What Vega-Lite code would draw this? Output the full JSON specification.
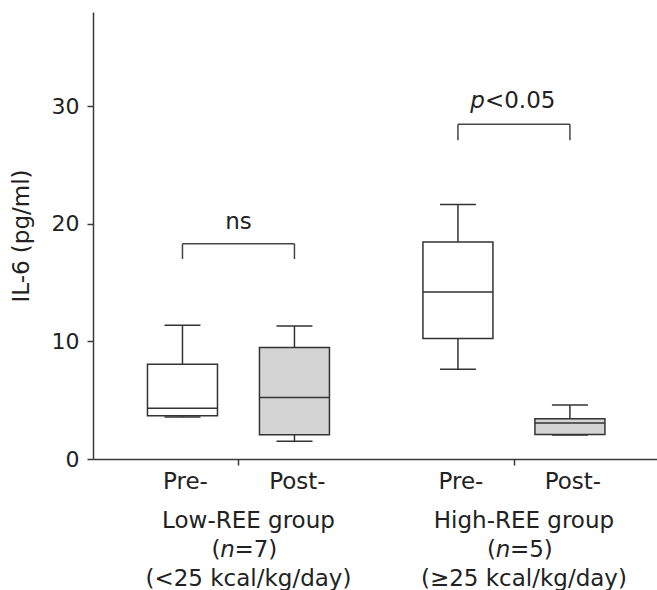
{
  "$schema": "https://vega.github.io/schema/vega-lite/v6.json",
  "autosize": {"type": "none"},
  "width": 564,
  "height": 447,
  "padding": {"left": 93, "top": 12, "right": 0, "bottom": 131},
  "background": "white",
  "config": {
    "view": {"stroke": null},
    "font": "DejaVu Sans",
    "axis": {
      "grid": false,
      "domainColor": "#3a3a3a",
      "domainWidth": 1.5,
      "tickColor": "#3a3a3a",
      "tickWidth": 1.5,
      "tickSize": 6,
      "labelFont": "DejaVu Sans",
      "labelFontSize": 22,
      "labelColor": "#222222",
      "titleFont": "DejaVu Sans",
      "titleFontSize": 23,
      "titleFontWeight": "normal",
      "titleColor": "#222222"
    },
    "text": {"font": "DejaVu Sans", "fontSize": 23, "color": "#222222", "baseline": "alphabetic"}
  },
  "datasets": {
    "boxes": [
      {"group": "Low", "phase": "Pre-", "pos": 1, "min": 3.58, "q1": 3.67, "median": 4.32, "q3": 8.05, "max": 11.36},
      {"group": "Low", "phase": "Post-", "pos": 2, "min": 1.5, "q1": 2.06, "median": 5.23, "q3": 9.47, "max": 11.3},
      {"group": "High", "phase": "Pre-", "pos": 3.46, "min": 7.63, "q1": 10.25, "median": 14.2, "q3": 18.45, "max": 21.64},
      {"group": "High", "phase": "Post-", "pos": 4.46, "min": 2.03, "q1": 2.09, "median": 3.05, "q3": 3.42, "max": 4.58}
    ],
    "brackets": [
      {"xa": 1, "xb": 2, "xm": 1.5, "top": 18.3, "foot": 17.0},
      {"xa": 3.46, "xb": 4.46, "xm": 3.96, "top": 28.45, "foot": 27.1}
    ],
    "groups": [
      {"center": 1.5, "name": "Low-REE group", "n": "=7)", "kcal": "(<25 kcal/kg/day)"},
      {"center": 3.96, "name": "High-REE group", "n": "=5)", "kcal": "(≥25 kcal/kg/day)"}
    ]
  },
  "layer": [
    {
      "data": {"name": "boxes"},
      "mark": {"type": "rule", "stroke": "#333333", "strokeWidth": 1.5},
      "encoding": {
        "x": {"field": "pos", "type": "quantitative", "scale": {"domain": [0.2456, 5.193], "nice": false, "zero": false},
              "axis": {"values": [1.5, 3.96], "labels": false, "title": null}},
        "y": {"field": "min", "type": "quantitative", "scale": {"domain": [0, 38], "nice": false},
              "axis": {"values": [0, 10, 20, 30], "title": "IL-6 (pg/ml)", "labelPadding": 8, "titlePadding": 18}},
        "y2": {"field": "max"}
      }
    },
    {
      "data": {"name": "boxes"},
      "mark": {"type": "bar", "size": 70, "stroke": "#333333", "strokeWidth": 1.5},
      "encoding": {
        "x": {"field": "pos", "type": "quantitative"},
        "y": {"field": "q1", "type": "quantitative"},
        "y2": {"field": "q3"},
        "fill": {"field": "phase", "type": "nominal", "scale": {"domain": ["Pre-", "Post-"], "range": ["#ffffff", "#d4d4d4"]}, "legend": null}
      }
    },
    {
      "data": {"name": "boxes"},
      "mark": {"type": "tick", "orient": "horizontal", "size": 70, "thickness": 1.5, "color": "#333333", "opacity": 1},
      "encoding": {
        "x": {"field": "pos", "type": "quantitative"},
        "y": {"field": "median", "type": "quantitative"}
      }
    },
    {
      "data": {"name": "boxes"},
      "mark": {"type": "tick", "orient": "horizontal", "size": 36, "thickness": 1.5, "color": "#333333", "opacity": 1},
      "encoding": {
        "x": {"field": "pos", "type": "quantitative"},
        "y": {"field": "max", "type": "quantitative"}
      }
    },
    {
      "data": {"name": "boxes"},
      "mark": {"type": "tick", "orient": "horizontal", "size": 36, "thickness": 1.5, "color": "#333333", "opacity": 1},
      "encoding": {
        "x": {"field": "pos", "type": "quantitative"},
        "y": {"field": "min", "type": "quantitative"}
      }
    },
    {
      "data": {"name": "boxes"},
      "mark": {"type": "text", "align": "center", "dx": 3},
      "encoding": {
        "x": {"field": "pos", "type": "quantitative"},
        "y": {"datum": -2.55},
        "text": {"field": "phase"}
      }
    },
    {
      "data": {"name": "brackets"},
      "mark": {"type": "rule", "stroke": "#444444", "strokeWidth": 1.5},
      "encoding": {
        "x": {"field": "xa", "type": "quantitative"},
        "x2": {"field": "xb"},
        "y": {"field": "top", "type": "quantitative"}
      }
    },
    {
      "data": {"name": "brackets"},
      "mark": {"type": "rule", "stroke": "#444444", "strokeWidth": 1.5},
      "encoding": {
        "x": {"field": "xa", "type": "quantitative"},
        "y": {"field": "foot", "type": "quantitative"},
        "y2": {"field": "top"}
      }
    },
    {
      "data": {"name": "brackets"},
      "mark": {"type": "rule", "stroke": "#444444", "strokeWidth": 1.5},
      "encoding": {
        "x": {"field": "xb", "type": "quantitative"},
        "y": {"field": "foot", "type": "quantitative"},
        "y2": {"field": "top"}
      }
    },
    {
      "data": {"values": [{"xm": 1.5, "label": "ns"}]},
      "mark": {"type": "text", "align": "center"},
      "encoding": {
        "x": {"field": "xm", "type": "quantitative"},
        "y": {"datum": 19.55},
        "text": {"field": "label"}
      }
    },
    {
      "data": {"values": [{"xm": 3.96, "label": "p"}]},
      "mark": {"type": "text", "align": "right", "dx": -29, "fontStyle": "italic"},
      "encoding": {
        "x": {"field": "xm", "type": "quantitative"},
        "y": {"datum": 29.8},
        "text": {"field": "label"}
      }
    },
    {
      "data": {"values": [{"xm": 3.96, "label": "<0.05"}]},
      "mark": {"type": "text", "align": "left", "dx": -29},
      "encoding": {
        "x": {"field": "xm", "type": "quantitative"},
        "y": {"datum": 29.8},
        "text": {"field": "label"}
      }
    },
    {
      "data": {"name": "groups"},
      "mark": {"type": "text", "align": "center", "dx": 10},
      "encoding": {
        "x": {"field": "center", "type": "quantitative"},
        "y": {"datum": -5.87},
        "text": {"field": "name"}
      }
    },
    {
      "data": {"name": "groups"},
      "mark": {"type": "text", "align": "right", "dx": -18},
      "encoding": {
        "x": {"field": "center", "type": "quantitative"},
        "y": {"datum": -8.33},
        "text": {"value": "("}
      }
    },
    {
      "data": {"name": "groups"},
      "mark": {"type": "text", "align": "center", "dx": -11, "fontStyle": "italic"},
      "encoding": {
        "x": {"field": "center", "type": "quantitative"},
        "y": {"datum": -8.33},
        "text": {"value": "n"}
      }
    },
    {
      "data": {"name": "groups"},
      "mark": {"type": "text", "align": "left", "dx": -4},
      "encoding": {
        "x": {"field": "center", "type": "quantitative"},
        "y": {"datum": -8.33},
        "text": {"field": "n"}
      }
    },
    {
      "data": {"name": "groups"},
      "mark": {"type": "text", "align": "center", "dx": 10},
      "encoding": {
        "x": {"field": "center", "type": "quantitative"},
        "y": {"datum": -10.8},
        "text": {"field": "kcal"}
      }
    }
  ]
}
